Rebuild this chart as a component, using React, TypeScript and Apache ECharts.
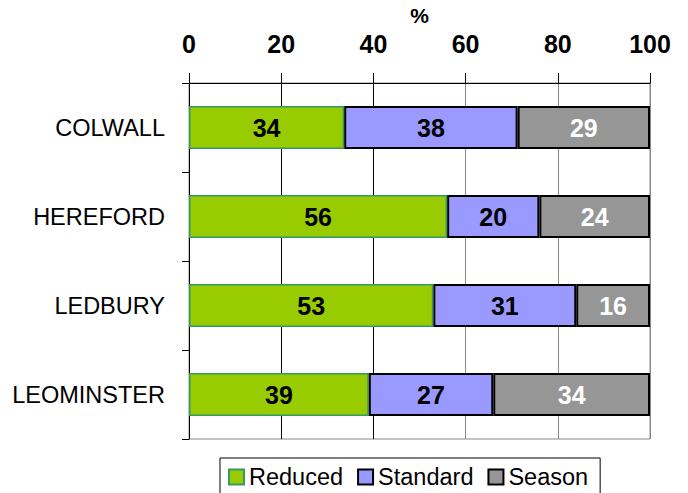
import React, { useEffect, useRef } from "react";
import * as echarts from "echarts";

const categories = ["COLWALL", "HEREFORD", "LEDBURY", "LEOMINSTER"];
const reduced = [34, 56, 53, 39];
const standard = [38, 20, 31, 27];
const season = [29, 24, 16, 34];
const xTicks = [0, 20, 40, 60, 80, 100];

const FONT = "Liberation Sans, Arial, sans-serif";

export default function App() {
  const ref = useRef<HTMLDivElement>(null);
  useEffect(() => {
    if (!ref.current) return;
    const chart = echarts.init(ref.current, null, { renderer: "svg" });
    const totals = categories.map((_, i) => reduced[i] + standard[i] + season[i]);
    const pct = (arr: number[]) =>
      arr.map((v, i) => ({ value: (v / totals[i]) * 100, raw: v }));
    const label = (color: string) => ({
      show: true,
      position: "inside",
      color,
      fontFamily: FONT,
      fontWeight: "bold",
      fontSize: 25,
      formatter: (p: any) => String(p.data.raw),
    });
    chart.setOption({
      animation: false,
      textStyle: { fontFamily: FONT },
      grid: {
        left: 189,
        right: 38,
        top: 83,
        bottom: 54,
        show: true,
        borderColor: "#888",
        borderWidth: 1,
      },
      legend: {
        left: 220,
        top: 458,
        padding: [7, 12, 8, 8],
        borderColor: "#000",
        borderWidth: 1,
        itemWidth: 15,
        itemHeight: 15,
        itemGap: 14,
        icon: "rect",
        textStyle: { fontFamily: FONT, fontSize: 23.5, color: "#000" },
        data: ["Reduced", "Standard", "Season"],
      },
      xAxis: {
        type: "value",
        position: "top",
        min: 0,
        max: 100,
        interval: 20,
        name: "%",
        nameLocation: "middle",
        nameGap: 50,
        nameTextStyle: { fontFamily: FONT, fontWeight: "bold", fontSize: 21, color: "#000" },
        axisLine: { show: true, lineStyle: { color: "#000", width: 1 } },
        axisTick: { show: true, inside: false, length: 10, lineStyle: { color: "#000" } },
        axisLabel: {
          margin: 27,
          fontFamily: FONT,
          fontWeight: "bold",
          fontSize: 25,
          color: "#000",
          formatter: (v: number) => (xTicks.includes(v) ? String(v) : ""),
        },
        splitLine: {
          show: true,
          lineStyle: { color: ["#000", "#000", "#000", "#888", "#888", "#888"], width: 1 },
        },
      },
      yAxis: {
        type: "category",
        inverse: true,
        data: categories,
        axisLine: { show: true, lineStyle: { color: "#000", width: 1 } },
        axisTick: { show: true, length: 7, lineStyle: { color: "#000" } },
        axisLabel: { margin: 24, fontFamily: FONT, fontSize: 23.5, color: "#000" },
        splitLine: { show: false },
      },
      series: [
        {
          name: "Reduced",
          type: "bar",
          stack: "total",
          barWidth: 43,
          data: pct(reduced),
          itemStyle: { color: "#99cc00", borderColor: "#339966", borderWidth: 1.5 },
          label: label("#000"),
        },
        {
          name: "Standard",
          type: "bar",
          stack: "total",
          barWidth: 43,
          data: pct(standard),
          itemStyle: { color: "#9999ff", borderColor: "#000", borderWidth: 2 },
          label: label("#000"),
        },
        {
          name: "Season",
          type: "bar",
          stack: "total",
          barWidth: 43,
          data: pct(season),
          itemStyle: { color: "#969696", borderColor: "#000", borderWidth: 2 },
          label: label("#fff"),
        },
      ],
    });
    return () => chart.dispose();
  }, []);
  return (
    <div
      ref={ref}
      style={{ position: "absolute", left: 0, top: 0, width: 688, height: 493 }}
    />
  );
}
